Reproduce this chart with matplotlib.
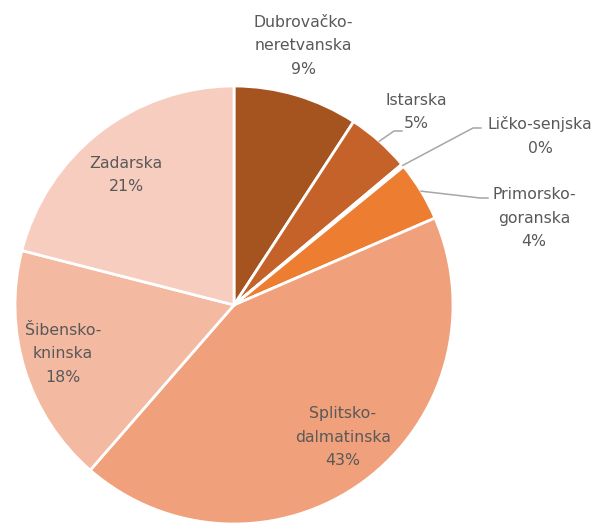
import matplotlib
matplotlib.use("Agg")
import matplotlib.pyplot as plt
import numpy as np

labels = ["Dubrovačko-\nneretvanska", "Istarska", "Ličko-senjska", "Primorsko-\ngoranska",
          "Splitsko-\ndalmatinska", "Šibensko-\nkninska", "Zadarska"]
values = [9.2, 4.7, 0.2, 4.4, 42.9, 17.6, 21.0]
pct_text = ["9%", "5%", "0%", "4%", "43%", "18%", "21%"]
colors = ["#A5531F", "#C4622A", "#F2F2F2", "#ED7D31", "#F0A07B", "#F4B9A1", "#F7CDBF"]

W, H = 601, 525
fig = plt.figure(figsize=(W / 100, H / 100), dpi=100)
ax = fig.add_axes([0, 0, 1, 1])

cx, cy, r = 234, H - 305, 219
wedges, _ = ax.pie(values, colors=colors, startangle=90, counterclock=False,
                   center=(cx, cy), radius=r, frame=True,
                   wedgeprops=dict(edgecolor="white", linewidth=2))
ax.set_xlim(0, W)
ax.set_ylim(0, H)
ax.axis("off")

# label positions (pixel, top-left origin)
pos = [(303, 46), (416, 112), (540, 136), (534, 218), (343, 437), (63, 354), (126, 175)]
tc = "#595959"
for lab, pt, (x, y) in zip(labels, pct_text, pos):
    ax.text(x, H - y, lab + "\n" + pt, ha="center", va="center", color=tc,
            fontsize=11.3, family="DejaVu Sans", linespacing=1.72)

# leader lines: (wedge index, elbow point, end point) in pixels
leaders = [(1, (394, 131), (402, 131)), (2, (473, 128), (481, 128)), (3, (480, 198), (488, 198))]
cum = np.cumsum([0] + values)
tot = cum[-1]
for i, (ex, ey), (fx, fy) in leaders:
    mid = (cum[i] + cum[i + 1]) / 2 / tot
    ang = np.deg2rad(90 - 360 * mid)
    sx, sy = cx + r * np.cos(ang), cy + r * np.sin(ang)
    ax.plot([sx, ex, fx], [sy, H - ey, H - fy], color="#A6A6A6", lw=1.1)

fig.savefig("out.png", dpi=100, facecolor="white")
